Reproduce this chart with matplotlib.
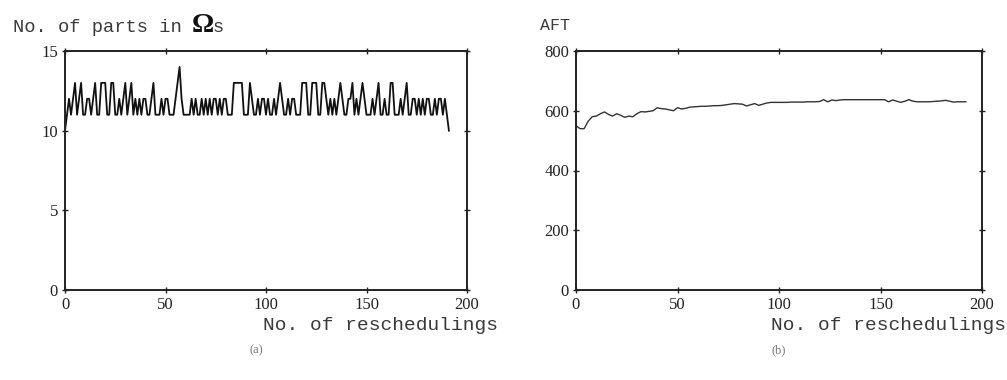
import matplotlib
matplotlib.use("Agg")
import matplotlib.pyplot as plt
import numpy as np

# ---------------- data ----------------
# (a) number of parts in Omega_s at each rescheduling (x = 0..191)
parts_x = list(range(0, 192))
parts_y = [
    10, 11, 12, 11, 12, 13, 11, 12, 13, 11,
    11, 12, 12, 11, 12, 13, 11, 11, 13, 13,
    13, 11, 11, 13, 13, 11, 11, 12, 11, 12,
    13, 11, 12, 13, 11, 12, 11, 12, 11, 12,
    12, 11, 11, 12, 13, 11, 11, 11, 12, 11,
    12, 12, 11, 11, 11, 12, 13, 14, 12, 11,
    11, 11, 11, 12, 11, 12, 11, 11, 12, 11,
    12, 11, 12, 11, 12, 12, 11, 12, 11, 12,
    12, 11, 11, 11, 13, 13, 13, 13, 13, 11,
    11, 11, 13, 12, 11, 11, 12, 11, 12, 12,
    11, 12, 11, 11, 12, 11, 12, 13, 12, 11,
    11, 12, 11, 12, 12, 11, 11, 11, 13, 13,
    13, 11, 11, 13, 13, 13, 11, 11, 13, 13,
    12, 11, 12, 11, 12, 11, 12, 13, 12, 11,
    11, 12, 12, 13, 11, 12, 11, 12, 13, 12,
    11, 11, 11, 12, 11, 12, 13, 11, 11, 12,
    11, 11, 13, 13, 11, 11, 11, 12, 11, 12,
    13, 11, 11, 12, 12, 11, 12, 11, 12, 11,
    12, 12, 11, 11, 12, 11, 12, 12, 11, 12,
    11, 10,
]

# (b) AFT at each rescheduling (x = 0, 2, ..., 192)
aft_x = list(range(0, 193, 2))
aft_y = [
    550, 540, 540, 565, 580, 582, 590, 596, 588, 582,
    590, 585, 578, 582, 580, 590, 597, 596, 598, 600,
    610, 607, 606, 603, 600, 610, 606, 608, 612, 613,
    614, 615, 615, 616, 617, 617, 618, 620, 622, 624,
    623, 622, 616, 620, 624, 618, 622, 626, 628, 628,
    628, 628, 628, 629, 629, 629, 629, 630, 630, 630,
    631, 637, 630, 636, 634, 636, 637, 637, 637, 637,
    637, 637, 637, 637, 637, 637, 637, 630, 636, 632,
    628, 632, 637, 632, 630, 630, 630, 630, 631, 632,
    633, 635, 632, 629, 630, 630, 630,
]

left_yticks = [0, 5, 10, 15]
right_yticks = [0, 200, 400, 600, 800]
xticks = [0, 50, 100, 150, 200]

# ---------------- figure ----------------
W, H = 1007, 380
fig = plt.figure(figsize=(W / 100, H / 100), dpi=100)
fig.patch.set_facecolor("white")

def px(x, y):
    return x / W, 1 - y / H

def make_axes(x0, x1, y0, y1):
    l, t = px(x0, y0)
    r, b = px(x1, y1)
    return fig.add_axes([l, b, r - l, t - b])

ax1 = make_axes(65, 467, 51, 290)
ax2 = make_axes(576, 982, 51, 290)

mono = "Liberation Mono"
text_col = "#3a3a3a"

for ax in (ax1, ax2):
    for s in ax.spines.values():
        s.set_linewidth(1.4)
        s.set_color("#222222")
    ax.set_xlim(0, 200)
    ax.set_xticks(xticks)
    ax.tick_params(direction="inout", length=4, width=1, top=True, right=True,
                   colors="#222222", pad=3)

ax1.plot(parts_x, parts_y, color="#111111", lw=1.3)
ax1.set_ylim(0, 15)
ax1.set_yticks(left_yticks)

ax2.plot(aft_x, aft_y, color="#333333", lw=1.0)
ax2.set_ylim(0, 800)
ax2.set_yticks(right_yticks)

for ax in (ax1, ax2):
    for lab in ax.get_xticklabels() + ax.get_yticklabels():
        lab.set_fontfamily("Liberation Serif")
        lab.set_fontsize(12)

# ---------------- labels ----------------
x, y = px(13, 32)
fig.text(x, y, "No. of parts in", family=mono, size=13.5, color=text_col, va="baseline")
x, y = px(192, 32)
fig.text(x, y, "\u03a9", family="Liberation Serif", weight="bold", size=20, color="#111111", va="baseline")
x, y = px(213, 32)
fig.text(x, y, "s", family=mono, size=13.5, color=text_col, va="baseline")

x, y = px(540, 30)
fig.text(x, y, "AFT", family=mono, size=12, color=text_col, va="baseline")

x, y = px(263, 325)
fig.text(x, y, "No. of reschedulings", family=mono, size=14, color=text_col, va="center")
x, y = px(771, 325)
fig.text(x, y, "No. of reschedulings", family=mono, size=14, color=text_col, va="center")

x, y = px(250, 350)
fig.text(x, y, "(a)", family="Liberation Serif", size=9, color="#777777", va="center")
x, y = px(771, 350)
fig.text(x, y, "(b)", family="Liberation Serif", size=9, color="#777777", va="center")

fig.savefig("out.png", dpi=100, facecolor="white")
